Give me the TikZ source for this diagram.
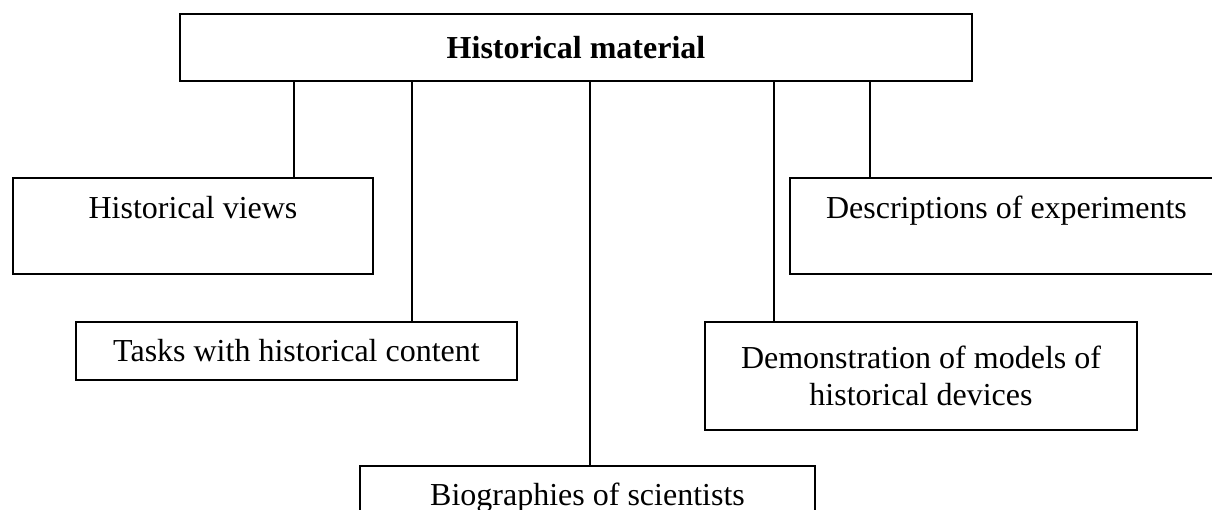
\documentclass[tikz,border=0pt]{standalone}
\usepackage{fontspec}
\setmainfont{Liberation Serif}
\usetikzlibrary{positioning, calc}

\begin{document}
\begin{tikzpicture}[
  x=1pt, y=-1pt,
  every node/.style={font=\fontsize{32}{37}\selectfont},
  box/.style   = {draw, line width=1.5pt, align=center, inner sep=0pt},
  title/.style = {box, line width=2pt, font=\fontsize{32}{37}\selectfont\bfseries},
  link/.style  = {line width=1.4pt},
]
  \useasboundingbox (0,0) rectangle (1212,510);
  \clip (0,0) rectangle (1212,510);
  \node[title, minimum width=792pt, minimum height=67pt] (hm)    at (576,47.5)   {Historical material};
  \node[box, minimum width=360pt, minimum height=96pt]   (views) at (193,226)    {Historical views\\ \mbox{}};
  \node[box, minimum width=433pt, minimum height=96pt]   (desc)  at (1006.5,226) {Descriptions of experiments\\ \mbox{}};
  \node[box, minimum width=441pt, minimum height=58pt]   (tasks) at (296.5,351)  {Tasks with historical content};
  \node[box, minimum width=432pt, minimum height=108pt]  (demo)  at (921,376)    {Demonstration of models of\\ historical devices};
  \node[box, minimum width=455pt, minimum height=64pt]   (bio)   at (587.5,498)  {Biographies of scientists};
  \foreach \k/\dx/\b in {1/115/views, 2/233/tasks, 3/411/bio, 4/595/demo, 5/691/desc}{
    \coordinate (p\k) at ($(hm.south west)+(\dx,0)$);
    \draw[link] (p\k) -- (p\k |- \b.north);
  }
\end{tikzpicture}
\end{document}
